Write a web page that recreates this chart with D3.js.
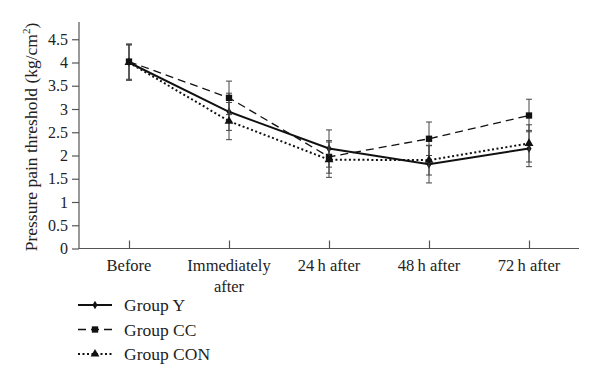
<!DOCTYPE html>
<html>
<head>
<meta charset="utf-8">
<script src="https://cdn.jsdelivr.net/npm/d3@7"></script>
<style>
  body { margin: 0; background: #fff; }
  text { font-family: "Liberation Serif", "DejaVu Serif", serif; fill: #222; }
</style>
</head>
<body>
<svg id="chart" width="600" height="385"></svg>
<script>
// time points
var categories = ["Before", "Immediately after", "24h after", "48h after", "72h after"];
var yTicks = [0, 0.5, 1, 1.5, 2, 2.5, 3, 3.5, 4, 4.5];

// means and error (SD) per group
var groupY = [4.0, 2.94, 2.15, 1.81, 2.15];
var groupYErr = [0.38, 0.40, 0.40, 0.40, 0.39];
var groupCC = [4.02, 3.24, 1.97, 2.36, 2.86];
var groupCCErr = [0.38, 0.36, 0.35, 0.36, 0.35];
var groupCON = [4.0, 2.74, 1.91, 1.90, 2.26];
var groupCONErr = [0.38, 0.40, 0.38, 0.32, 0.40];

var series = [
  { name: "Group Y", values: groupY, err: groupYErr, dash: null, width: 2, marker: "diamond" },
  { name: "Group CC", values: groupCC, err: groupCCErr, dash: "8,5", width: 1.3, marker: "square" },
  { name: "Group CON", values: groupCON, err: groupCONErr, dash: "2,2.5", width: 2, marker: "triangle" }
];

var svg = d3.select("#chart");
var left = 79, right = 579, bottom = 248.5;

var x = d3.scalePoint().domain(categories).range([left, right]).padding(0.5);
var y = d3.scaleLinear().domain([0, 4.5]).range([bottom, bottom - 4.5 * 46.5]);

var axisColor = "#555";

// y axis
var yAxis = svg.append("g").attr("transform", "translate(" + left + ",0)")
  .call(d3.axisLeft(y).tickValues(yTicks).tickSize(7).tickPadding(4)
    .tickFormat(function (d) { return d3.format("")(d); }));
yAxis.select(".domain").attr("d", "M0," + (bottom + 0.5) + "V22").attr("stroke", axisColor).attr("stroke-width", 1.2);
yAxis.selectAll(".tick line").attr("stroke", axisColor).attr("stroke-width", 1.2);
yAxis.selectAll(".tick text").attr("font-size", 16).attr("fill", "#222")
  .attr("font-family", "Liberation Serif, serif");

// x axis, ticks pointing up into the plot
var xAxis = svg.append("g").attr("transform", "translate(0," + bottom + ")")
  .call(d3.axisBottom(x).tickSize(-8).tickSizeOuter(0).tickFormat(""));
xAxis.select(".domain").attr("d", "M" + left + ",0H" + right).attr("stroke", axisColor).attr("stroke-width", 1.2);
xAxis.selectAll(".tick line").attr("stroke", axisColor).attr("stroke-width", 1.2);

// x labels (wrap "Immediately after")
var labelLines = { "Immediately after": ["Immediately", "after"], "24h after": ["24\u2009h after"], "48h after": ["48\u2009h after"], "72h after": ["72\u2009h after"] };
categories.forEach(function (c) {
  var lines = labelLines[c] || [c];
  var t = svg.append("text")
    .attr("x", x(c)).attr("y", bottom + 22)
    .attr("text-anchor", "middle").attr("font-size", 16.5);
  lines.forEach(function (l, i) {
    t.append("tspan").attr("x", x(c)).attr("dy", i === 0 ? 0 : 21).text(l);
  });
});

// y axis title
var yt = svg.append("text")
  .attr("transform", "translate(37," + 137 + ") rotate(-90)")
  .attr("text-anchor", "middle").attr("font-size", 17.5);
yt.append("tspan").text("Pressure pain threshold (kg/cm");
yt.append("tspan").attr("font-size", 11).attr("dy", -7).text("2");
yt.append("tspan").attr("dy", 7).text(")");

// markers
var symbols = {
  diamond: d3.symbol().type(d3.symbolDiamond).size(22),
  square: d3.symbol().type(d3.symbolSquare).size(40),
  triangle: d3.symbol().type(d3.symbolTriangle).size(34)
};

var line = d3.line()
  .x(function (d, i) { return x(categories[i]); })
  .y(function (d) { return y(d); });

series.forEach(function (s) {
  var g = svg.append("g");
  // error bars
  s.values.forEach(function (v, i) {
    var cx = x(categories[i]);
    var eb = g.append("g").attr("stroke", "#444").attr("stroke-width", 1);
    eb.append("line").attr("x1", cx).attr("x2", cx).attr("y1", y(v + s.err[i])).attr("y2", y(v - s.err[i]));
    eb.append("line").attr("x1", cx - 3).attr("x2", cx + 3).attr("y1", y(v + s.err[i])).attr("y2", y(v + s.err[i]));
    eb.append("line").attr("x1", cx - 3).attr("x2", cx + 3).attr("y1", y(v - s.err[i])).attr("y2", y(v - s.err[i]));
  });
  g.append("path").datum(s.values)
    .attr("d", line).attr("fill", "none").attr("stroke", "#111")
    .attr("stroke-width", s.width)
    .attr("stroke-dasharray", s.dash);
  g.selectAll(".pt").data(s.values).enter().append("path")
    .attr("transform", function (d, i) { return "translate(" + x(categories[i]) + "," + y(d) + ")"; })
    .attr("d", symbols[s.marker]).attr("fill", "#111");
});

// legend
var legend = svg.append("g");
series.forEach(function (s, i) {
  var ly = 305 + i * 24.5;
  legend.append("line").attr("x1", 78).attr("x2", 112).attr("y1", ly).attr("y2", ly)
    .attr("stroke", "#111").attr("stroke-width", s.width).attr("stroke-dasharray", s.dash);
  legend.append("path").attr("transform", "translate(95," + ly + ")")
    .attr("d", symbols[s.marker]).attr("fill", "#111");
  legend.append("text").attr("x", 124).attr("y", ly + 6).attr("font-size", 17.5).text(s.name);
});
</script>
</body>
</html>
